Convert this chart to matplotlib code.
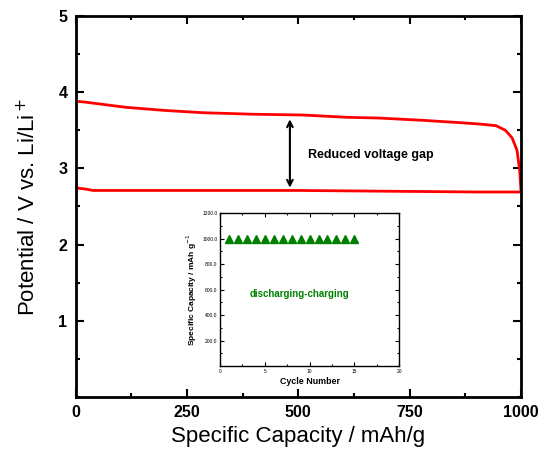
import matplotlib
matplotlib.use("Agg")
import matplotlib.pyplot as plt
import numpy as np
from matplotlib.ticker import MultipleLocator

plt.rcParams['font.family'] = ['Liberation Sans', 'DejaVu Sans']

# discharge curve (upper)
cap_dis = [0, 20, 60, 114, 200, 286, 400, 510, 608, 682, 780, 862, 910, 944, 965, 980, 991, 997, 1000]
volt_dis = [3.88, 3.87, 3.84, 3.80, 3.76, 3.73, 3.71, 3.70, 3.67, 3.66, 3.63, 3.60, 3.58, 3.56, 3.50, 3.40, 3.24, 2.98, 2.70]

# charge curve (lower)
cap_chg = [0, 1, 5, 20, 39, 100, 300, 500, 700, 900, 1000]
volt_chg = [2.91, 2.76, 2.74, 2.73, 2.71, 2.71, 2.71, 2.71, 2.70, 2.69, 2.69]

# inset: cycling
cycles = np.arange(1, 16)
cycle_cap = [1000] * 15

fig = plt.figure(figsize=(5.41, 4.51), dpi=100)
ax = fig.add_axes([0.14, 0.1197, 0.823, 0.845])

ax.plot(cap_dis, volt_dis, color='red', lw=2)
ax.plot(cap_chg, volt_chg, color='red', lw=2)

ax.annotate('', xy=(481, 3.68), xytext=(481, 2.71),
            arrowprops=dict(arrowstyle='<->', color='black', lw=1.5, mutation_scale=10))
ax.text(522, 3.18, 'Reduced voltage gap', fontsize=9, fontweight='bold', va='center', ha='left')

ax.set_xlim(0, 1000)
ax.set_ylim(0, 5)
ax.xaxis.set_major_locator(MultipleLocator(250))
ax.xaxis.set_minor_locator(MultipleLocator(125))
ax.yaxis.set_minor_locator(MultipleLocator(0.5))
ax.set_yticks([1, 2, 3, 4, 5])
ax.tick_params(which='both', direction='in', top=True, right=True, width=1.5)
ax.tick_params(which='major', length=6, labelsize=11.5, pad=6)
ax.tick_params(which='minor', length=3)
for lab in ax.get_xticklabels() + ax.get_yticklabels():
    lab.set_fontweight('bold')
for sp in ax.spines.values():
    sp.set_linewidth(2)
ax.set_xlabel('Specific Capacity / mAh/g', fontsize=16, labelpad=4)
ax.set_ylabel('Potential / V vs. Li/Li$^+$', fontsize=16, labelpad=13)

# inset
axi = fig.add_axes([0.4067, 0.1885, 0.331, 0.339])
axi.plot(cycles, cycle_cap, linestyle='none', marker='^', color='green', markersize=5.5)
axi.text(8.9, 563, 'discharging-charging', color='green', fontsize=7, fontweight='bold',
         ha='center', va='center')
axi.set_xlim(0, 20)
axi.set_ylim(0, 1200)
axi.xaxis.set_major_locator(MultipleLocator(5))
axi.xaxis.set_minor_locator(MultipleLocator(2.5))
axi.set_yticks([200, 400, 600, 800, 1000, 1200])
axi.set_yticklabels(['200.0', '400.0', '600.0', '800.0', '1000.0', '1200.0'])
axi.yaxis.set_minor_locator(MultipleLocator(100))
axi.tick_params(which='both', direction='in', top=True, right=True, width=0.8)
axi.tick_params(which='major', length=3, labelsize=3.5, pad=2)
axi.tick_params(which='minor', length=1.5)
for sp in axi.spines.values():
    sp.set_linewidth(1)
axi.set_xlabel('Cycle Number', fontsize=6.4, fontweight='bold', labelpad=2)
axi.set_ylabel('Specific Capacity / mAh g$^{-1}$', fontsize=6, fontweight='bold', labelpad=2)

fig.savefig('out.png', dpi=100)
